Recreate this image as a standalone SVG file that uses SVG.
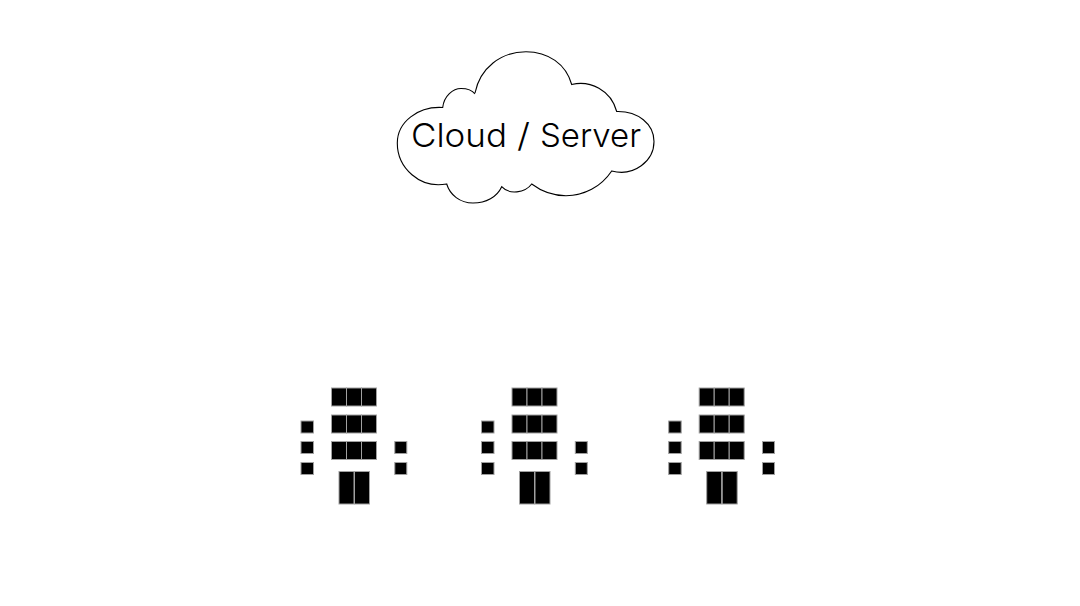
<svg xmlns="http://www.w3.org/2000/svg" xmlns:xlink="http://www.w3.org/1999/xlink" width="1080" height="606" viewBox="0 0 1080 606">
<style>
.c{fill:#000;stroke:#a0a0a0;stroke-width:1}
.cloud{fill:#fff;stroke:#000;stroke-width:1.100}
.t{font-family:"Inter","Liberation Sans",sans-serif;font-weight:300;font-size:33px;fill:#000}
</style>
<defs>
<g id="fig">
<rect class="c" x="331.5" y="388" width="15" height="18"/><rect class="c" x="346.5" y="388" width="15" height="18"/><rect class="c" x="361.5" y="388" width="15" height="18"/>
<rect class="c" x="331.5" y="415" width="15" height="18"/><rect class="c" x="346.5" y="415" width="15" height="18"/><rect class="c" x="361.5" y="415" width="15" height="18"/>
<rect class="c" x="331.5" y="441.500" width="15" height="18"/><rect class="c" x="346.5" y="441.500" width="15" height="18"/><rect class="c" x="361.5" y="441.500" width="15" height="18"/>
<rect class="c" x="339" y="471.500" width="15" height="32.500"/><rect class="c" x="354.500" y="471.500" width="15" height="32.500"/>
<rect class="c" x="301" y="421" width="12.500" height="12"/><rect class="c" x="301" y="441.500" width="12.500" height="12"/><rect class="c" x="301" y="462.500" width="12.500" height="12"/>
<rect class="c" x="394.800" y="441.500" width="12" height="12"/><rect class="c" x="394.800" y="462.500" width="12" height="12"/>
</g>
</defs>
<rect width="1080" height="606" fill="#fff"/>
<g id="cloud">
<path class="cloud" d="M475 93C480 68 501 51.700 526 51.700C548 51.700 566 64 571.700 84.500C590 80 611 90 616.700 111.500C638 111 654 124 654 141.500C654 161 634 177 611.700 171C601 187 584 195.700 566 195.700C553 195.700 541 191 531.700 184C525 193 509 195 501.700 186.700C497 197 486 203 473 203C460 203 450 195 446.700 184C420 189 397.300 168 397.300 143C397.300 122 418 106 442.700 107.500C444 96 453 88.500 461 88.500C467 88.500 472 90 475 94"/>
<text class="t" y="147"><tspan x="411" textLength="96" lengthAdjust="spacingAndGlyphs">Cloud</tspan> <tspan x="517" textLength="13" lengthAdjust="spacingAndGlyphs">/</tspan> <tspan x="540" textLength="101" lengthAdjust="spacingAndGlyphs">Server</tspan></text>
</g>
<g id="node-1"><use xlink:href="#fig" href="#fig"/></g>
<g id="node-2"><use xlink:href="#fig" href="#fig" x="180.500"/></g>
<g id="node-3"><use xlink:href="#fig" href="#fig" x="367.700"/></g>
<g id="connectors"/>
</svg>
